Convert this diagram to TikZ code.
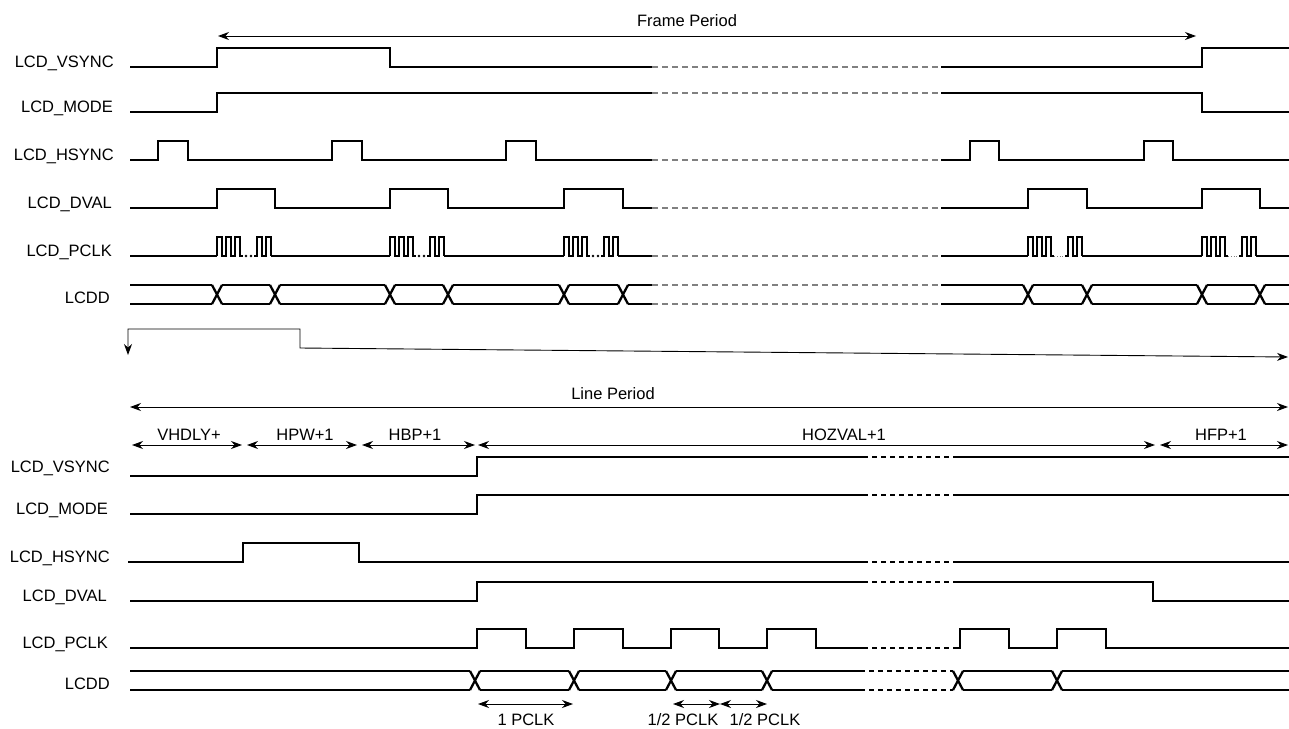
\documentclass[tikz,border=0pt]{standalone}
\usepackage{fontspec}
\setmainfont{Liberation Sans}
\usetikzlibrary{arrows.meta}

\tikzset{
  sig/.style={line width=2.3pt},
  gapdash/.style={gray, line width=1.2pt, dash pattern=on 6pt off 4pt},
  gapbold/.style={line width=2.3pt, dash pattern=on 5pt off 4pt},
  dimarrow/.style={line width=0.9pt, {Stealth[length=11pt,width=8pt]}-{Stealth[length=11pt,width=8pt]}},
  lbl/.style={anchor=base east, inner sep=0pt, font=\fontsize{16.5}{19}\selectfont},
  txt/.style={anchor=base, inner sep=0pt, font=\fontsize{16.5}{19}\selectfont},
}

\begin{document}
\begin{tikzpicture}[x=1pt,y=-1pt]
\useasboundingbox (0,0) rectangle (1289,728);

\node[lbl] (fvsync) at (114,67) {LCD\_VSYNC};
\node[lbl] (fmode) at (113,112) {LCD\_MODE};
\node[lbl] (fhsync) at (114,160) {LCD\_HSYNC};
\node[lbl] (fdval) at (112,208) {LCD\_DVAL};
\node[lbl] (fpclk) at (112,256) {LCD\_PCLK};
\node[lbl] (flcdd) at (110,303) {LCDD};

\coordinate (fpA) at (218,36); \coordinate (fpB) at (1196,36);
\draw[dimarrow] (fpA) -- (fpB);
\node[txt] (fp) at (687,27) {Frame Period};

\draw[sig] (130,67) -| (217,48) -| (390,67) -- (652,67);
\draw[gapdash] (652,67) -- (941,67);
\draw[sig] (941,67) -| (1202,48) -- (1289,48);

\draw[sig] (130,112) -| (217,93) -- (652,93);
\draw[gapdash] (652,93) -- (941,93);
\draw[sig] (941,93) -| (1202,112) -- (1289,112);

\draw[sig] (130,160) -| (158,141) -| (188,160) -| (332,141) -| (362,160) -| (506,141) -| (536,160) -- (652,160);
\draw[gapdash] (652,160) -- (941,160);
\draw[sig] (941,160) -| (970,141) -| (999,160) -| (1144,141) -| (1173,160) -- (1289,160);

\draw[sig] (130,208) -| (217,189) -| (275,208) -| (390,189) -| (448,208) -| (564,189) -| (623,208) -- (652,208);
\draw[gapdash] (652,208) -- (941,208);
\draw[sig] (941,208) -| (1028,189) -| (1087,208) -| (1202,189) -| (1260,208) -- (1289,208);

\draw[sig] (130,256) -- (217,256) (271,256) -- (390,256) (444,256) -- (564,256) (618,256) -- (652,256);
\draw[gapdash] (652,256) -- (941,256);
\draw[sig] (941,256) -- (1028,256) (1082,256) -- (1202,256) (1256,256) -- (1289,256);
\foreach \x in {217,390,564,1028,1202} {
  \draw[sig] (\x,256) -- ++(0,-19) -- ++(5,0) -- ++(0,19) -- ++(4,0) -- ++(0,-19) -- ++(5,0) -- ++(0,19)
    -- ++(4,0) -- ++(0,-19) -- ++(5,0) -- ++(0,19) -- ++(3,0);
  \draw[sig] (\x+37,256) -- ++(3,0) -- ++(0,-19) -- ++(5,0) -- ++(0,19) -- ++(4,0) -- ++(0,-19) -- ++(5,0) -- ++(0,19);
}
\foreach \x in {217,390,564}
  \fill (\x+29,256) circle (1.3pt) (\x+34,256) circle (1.3pt);
\foreach \x in {1028,1202}
  \draw[gray, line width=0.8pt, dotted] (\x+26,256) -- (\x+37,256);

\foreach \c in {217,275,390,448,564,623,1028,1087,1202,1260}
  \draw[sig] (\c-5,285) -- (\c+5,304) (\c-5,304) -- (\c+5,285);
\foreach \a/\b in {130/212,222/270,280/385,395/443,453/559,569/618,628/652,941/1023,1033/1082,1092/1197,1207/1255,1265/1289}
  \draw[sig] (\a,285) -- (\b,285) (\a,304) -- (\b,304);
\draw[gapdash] (652,285) -- (941,285) (652,304) -- (941,304);

\coordinate (zoomA) at (128,355); \coordinate (zoomB) at (1288,357);
\draw[line width=0.9pt, {Stealth[length=11pt,width=8pt]}-{Stealth[length=11pt,width=8pt]}]
  (zoomA) -- (128,329) -- (300,329) -- (300,348) -- (zoomB);

\coordinate (lpA) at (130,407); \coordinate (lpB) at (1288,407);
\draw[dimarrow] (lpA) -- (lpB);
\node[txt] (lp) at (613,399) {Line Period};

\coordinate (d0) at (132,445); \coordinate (d1) at (242,445);
\coordinate (d2) at (247,445); \coordinate (d3) at (357,445);
\coordinate (d4) at (362,445); \coordinate (d5) at (475,445);
\coordinate (d6) at (478,445); \coordinate (d7) at (1155,445);
\coordinate (d8) at (1160,445); \coordinate (d9) at (1288,445);
\draw[dimarrow] (d0) -- (d1);
\draw[dimarrow] (d2) -- (d3);
\draw[dimarrow] (d4) -- (d5);
\draw[dimarrow] (d6) -- (d7);
\draw[dimarrow] (d8) -- (d9);
\node[txt] (vhdly) at (189,440) {VHDLY+};
\node[txt] (hpw) at (305,440) {HPW+1};
\node[txt] (hbp) at (415,440) {HBP+1};
\node[txt] (hozval) at (844,440) {HOZVAL+1};
\node[txt] (hfp) at (1221,440) {HFP+1};

\node[lbl] (lvsync) at (110,472) {LCD\_VSYNC};
\node[lbl] (lmode) at (108,514) {LCD\_MODE};
\node[lbl] (lhsync) at (110,562) {LCD\_HSYNC};
\node[lbl] (ldval) at (107,601) {LCD\_DVAL};
\node[lbl] (lpclk) at (108,648) {LCD\_PCLK};
\node[lbl] (llcdd) at (110,689) {LCDD};

\draw[sig] (130,476) -| (477,457) -- (863,457);
\draw[gapbold] (863,457) -- (957,457);
\draw[sig] (957,457) -- (1289,457);

\draw[sig] (130,514) -| (477,495) -- (863,495);
\draw[gapbold] (863,495) -- (957,495);
\draw[sig] (957,495) -- (1289,495);

\draw[sig] (128,562) -| (243,543) -| (359,562) -- (863,562);
\draw[gapbold] (863,562) -- (957,562);
\draw[sig] (957,562) -- (1289,562);

\draw[sig] (130,601) -| (477,582) -- (863,582);
\draw[gapbold] (863,582) -- (957,582);
\draw[sig] (957,582) -| (1153,601) -- (1289,601);

\draw[sig] (130,648) -| (477,629) -| (526,648) -| (574,629) -| (623,648) -| (671,629) -| (719,648) -| (767,629) -| (816,648) -- (863,648);
\draw[gapbold] (863,648) -- (957,648);
\draw[sig] (957,648) -| (960,629) -| (1009,648) -| (1057,629) -| (1106,648) -- (1289,648);

\foreach \c in {475,574,671,767,958,1057}
  \draw[sig] (\c-5,671) -- (\c+5,690) (\c-5,690) -- (\c+5,671);
\foreach \a/\b in {130/470,480/569,579/666,676/762,772/860,963/1052,1062/1289}
  \draw[sig] (\a,671) -- (\b,671) (\a,690) -- (\b,690);
\draw[gapbold] (860,671) -- (953,671) (860,690) -- (953,690);

\coordinate (pA) at (478,704); \coordinate (pB) at (573,704);
\coordinate (pC) at (673,704); \coordinate (pD) at (720,704); \coordinate (pE) at (767,704);
\draw[dimarrow] (pA) -- (pB);
\draw[dimarrow] (pC) -- (pD);
\draw[dimarrow] (pD) -- (pE);
\node[txt] (onepclk) at (526,725) {1 PCLK};
\node[txt] (halfA) at (683,725) {1/2 PCLK};
\node[txt] (halfB) at (765,725) {1/2 PCLK};
\end{tikzpicture}
\end{document}
